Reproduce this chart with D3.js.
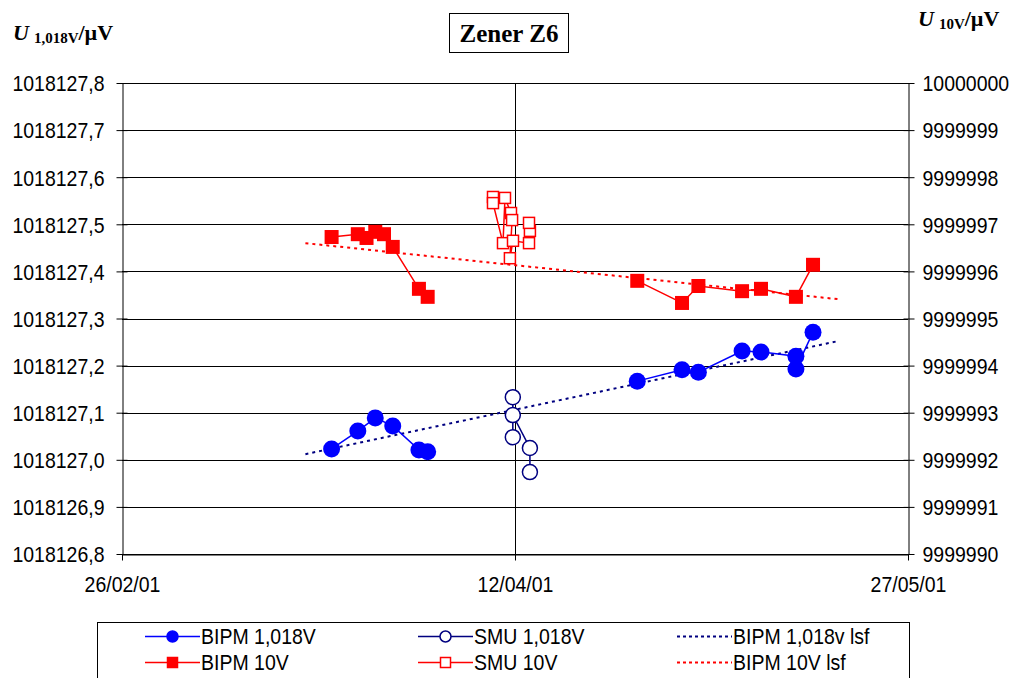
<!DOCTYPE html>
<html><head><meta charset="utf-8">
<script src="https://cdn.jsdelivr.net/npm/d3@7"></script>
<style>body{margin:0;background:#fff}svg{display:block}</style>
</head><body><svg id="c" width="1015" height="678"></svg>
<script>
// ---- data ---- (null marks a gap in the measured series)
const xTickLabels = ["2001-02-26","2001-04-12","2001-05-27"];
const leftTicks = [1018126.8,1018126.9,1018127.0,1018127.1,1018127.2,1018127.3,1018127.4,1018127.5,1018127.6,1018127.7,1018127.8];
const rightTicks = [9999990,9999991,9999992,9999993,9999994,9999995,9999996,9999997,9999998,9999999,10000000];

const bipm1018Dates = ["2001-03-22","2001-03-25","2001-03-27","2001-03-29","2001-04-01","2001-04-02",null,"2001-04-26","2001-05-01T03:00","2001-05-03","2001-05-08","2001-05-10T04:00","2001-05-14T04:00","2001-05-14T04:00","2001-05-16T03:00"];
const bipm1018Values = [1018127.023,1018127.061,1018127.089,1018127.072,1018127.021,1018127.017,null,1018127.167,1018127.191,1018127.186,1018127.231,1018127.229,1018127.220,1018127.193,1018127.271];

const smu1018Dates = ["2001-04-11T18:00","2001-04-11T18:00","2001-04-11T18:00","2001-04-13T17:00","2001-04-13T17:00"];
const smu1018Values = [1018127.048,1018127.133,1018127.095,1018127.025,1018126.974];

const bipm10Dates = ["2001-03-22","2001-03-25","2001-03-26","2001-03-27","2001-03-28","2001-03-29","2001-04-01","2001-04-02",null,"2001-04-26","2001-05-01T03:00","2001-05-03","2001-05-08","2001-05-10T04:00","2001-05-14T04:00","2001-05-16T03:00"];
const bipm10Values = [9999996.73,9999996.79,9999996.71,9999996.84,9999996.79,9999996.52,9999995.63,9999995.46,null,9999995.80,9999995.33,9999995.69,9999995.58,9999995.63,9999995.46,9999996.14];

const smu10Dates = ["2001-04-09T11:30","2001-04-09T11:30","2001-04-10T15:00","2001-04-10T20:30","2001-04-11T13:00","2001-04-11T16:00","2001-04-11T10:00","2001-04-11T18:30","2001-04-13T14:30","2001-04-13T17:00","2001-04-13T14:30"];
const smu10Values = [9999997.58,9999997.45,9999996.60,9999997.56,9999997.24,9999997.09,9999996.28,9999996.65,9999996.60,9999996.86,9999997.03];

const trend1018Dates = ["2001-03-19","2001-05-19"];
const trend1018Values = [1018127.012,1018127.252];
const trend10Dates = ["2001-03-19","2001-05-19"];
const trend10Values = [9999996.60,9999995.41];

const legendLabels = ["BIPM 1,018V","SMU 1,018V","BIPM 1,018v lsf","BIPM 10V","SMU 10V","BIPM 10V lsf"];

// ---- setup ----
const parse = s => new Date(s.length>10 ? s : s+"T00:00");
const L = 122, R = 908, T = 83, B = 554;
const x = d3.scaleTime().domain([parse(xTickLabels[0]), parse(xTickLabels[2])]).range([L,R]);
const yL = d3.scaleLinear().domain([1018126.8,1018127.8]).range([B,T]);
const yR = d3.scaleLinear().domain([9999990,10000000]).range([B,T]);
const loc = d3.formatLocale({decimal:",",thousands:"",grouping:[3],currency:["",""]});
const fL = loc.format(".1f"), fR = d3.format("d"), fX = d3.timeFormat("%d/%m/%y");

const svg = d3.select("#c");
const SANS = "'Liberation Sans', Arial, sans-serif";
const SERIF = "'Liberation Serif', 'Times New Roman', serif";
const FS = 19.5, SY = 1.1;

// gridlines
svg.append("g").selectAll("line").data(leftTicks).join("line")
  .attr("x1",L).attr("x2",R).attr("y1",d=>Math.round(yL(d))+0.5).attr("y2",d=>Math.round(yL(d))+0.5)
  .attr("stroke","#000").attr("stroke-width",1);
svg.append("line").attr("x1",Math.round(x(parse(xTickLabels[1])))+0.5).attr("x2",Math.round(x(parse(xTickLabels[1])))+0.5)
  .attr("y1",T).attr("y2",B+6).attr("stroke","#000");

// axes
const axL = svg.append("g").attr("transform",`translate(${L+0.5},0)`)
  .call(d3.axisLeft(yL).tickValues(leftTicks).tickFormat(fL).tickSizeInner(6).tickSizeOuter(0));
const axR = svg.append("g").attr("transform",`translate(${R+0.5},0)`)
  .call(d3.axisRight(yR).tickValues(rightTicks).tickFormat(fR).tickSizeInner(6).tickSizeOuter(0));
const axB = svg.append("g").attr("transform",`translate(0,${B+0.5})`)
  .call(d3.axisBottom(x).tickValues(xTickLabels.map(parse)).tickFormat(fX).tickSizeInner(6).tickSizeOuter(0));
[axL,axR,axB].forEach(a=>{
  a.select(".domain").attr("stroke","#000");
  a.selectAll(".tick line").attr("stroke","#000");
  a.selectAll("text").attr("font-family",SANS).attr("font-size",FS).attr("fill","#000");
});
axL.selectAll(".tick line").attr("x2",-6).attr("x1",5);
axR.selectAll(".tick line").attr("x1",-5).attr("x2",6);
axL.selectAll("text").attr("x",-18).attr("y",0).attr("dy",null).attr("dominant-baseline","central").attr("transform",`scale(1,${SY})`);
axR.selectAll("text").attr("x",14).attr("y",0).attr("dy",null).attr("dominant-baseline","central").attr("transform",`scale(1,${SY})`);
axB.selectAll("text").attr("y",20).attr("dy",null).attr("dominant-baseline","hanging").attr("transform",`scale(1,${SY})`);

// lines
const toPts = (ds,vs,ys)=>ds.map((d,i)=> d==null ? null : [x(parse(d)),ys(vs[i])]);
const line = d3.line().defined(p=>p!=null);
function series(ds,vs,ys,color,dash,w){
  svg.append("path").attr("d",line(toPts(ds,vs,ys))).attr("fill","none").attr("stroke",color)
    .attr("stroke-width",w).attr("stroke-dasharray",dash||null);
}
series(trend1018Dates,trend1018Values,yL,"#000080","3,4",2);
series(trend10Dates,trend10Values,yR,"#FF0000","3,4",2);
series(bipm10Dates,bipm10Values,yR,"#FF0000",null,1.5);
series(smu10Dates,smu10Values,yR,"#FF0000",null,1.5);
series(bipm1018Dates,bipm1018Values,yL,"#0000FF",null,1.5);
series(smu1018Dates,smu1018Values,yL,"#000080",null,1.5);

// markers
const pts = (ds,vs,ys)=>toPts(ds,vs,ys).filter(p=>p!=null);
svg.append("g").selectAll("rect").data(pts(bipm10Dates,bipm10Values,yR)).join("rect")
  .attr("x",p=>p[0]-7).attr("y",p=>p[1]-7).attr("width",14).attr("height",14).attr("fill","#FF0000");
svg.append("g").selectAll("rect").data(pts(smu10Dates,smu10Values,yR)).join("rect")
  .attr("x",p=>p[0]-5.5).attr("y",p=>p[1]-5.5).attr("width",11).attr("height",11).attr("fill","#fff")
  .attr("stroke","#FF0000").attr("stroke-width",1.5);
svg.append("g").selectAll("circle").data(pts(bipm1018Dates,bipm1018Values,yL)).join("circle")
  .attr("cx",p=>p[0]).attr("cy",p=>p[1]).attr("r",8.5).attr("fill","#0000FF");
svg.append("g").selectAll("circle").data(pts(smu1018Dates,smu1018Values,yL)).join("circle")
  .attr("cx",p=>p[0]).attr("cy",p=>p[1]).attr("r",7.5).attr("fill","#fff").attr("stroke","#000080").attr("stroke-width",1.5);

// title
svg.append("rect").attr("x",449.5).attr("y",13.5).attr("width",119).attr("height",39).attr("fill","#fff").attr("stroke","#000");
svg.append("text").attr("x",509).attr("y",42).attr("text-anchor","middle").attr("font-family",SERIF)
  .attr("font-weight","bold").attr("font-size",25).text("Zener Z6");

// axis titles
function axisTitle(xp,yp,sub){
  const t=svg.append("text").attr("x",xp).attr("y",yp).attr("font-family",SERIF).attr("font-weight","bold");
  t.append("tspan").attr("font-style","italic").attr("font-size",22).text("U");
  t.append("tspan").attr("font-size",15).attr("dx",5).attr("dy",3).text(sub);
  t.append("tspan").attr("font-size",22).attr("dy",-3).text("/µV");
}
axisTitle(13,40,"1,018V");
axisTitle(918,26,"10V");

// legend
svg.append("rect").attr("x",97.5).attr("y",622.5).attr("width",812).attr("height",80).attr("fill","#fff").attr("stroke","#000");
const cols=[145,418,677], rows=[636,662];
const legItems=[
  {c:"#0000FF",m:"circle",fill:"#0000FF"},{c:"#000080",m:"circle",fill:"#fff"},{c:"#000080",m:null,dash:"3,3"},
  {c:"#FF0000",m:"rect",fill:"#FF0000"},{c:"#FF0000",m:"rect",fill:"#fff"},{c:"#FF0000",m:null,dash:"3,3"}];
legItems.forEach((it,i)=>{
  const cx=cols[i%3], cy=rows[Math.floor(i/3)];
  const g=svg.append("g");
  g.append("line").attr("x1",cx).attr("x2",cx+55).attr("y1",cy+0.5).attr("y2",cy+0.5).attr("stroke",it.c)
    .attr("stroke-width",it.dash?2:1.5).attr("stroke-dasharray",it.dash||null);
  if(it.m==="circle") g.append("circle").attr("cx",cx+27.5).attr("cy",cy+0.5).attr("r",5.5).attr("fill",it.fill).attr("stroke",it.c).attr("stroke-width",1.5);
  if(it.m==="rect") g.append("rect").attr("x",cx+22.5).attr("y",cy-4.5).attr("width",10).attr("height",10).attr("fill",it.fill).attr("stroke",it.c).attr("stroke-width",1.5);
  g.append("text").attr("x",cx+56).attr("y",cy).attr("dominant-baseline","central").attr("font-family",SANS)
    .attr("font-size",FS).attr("transform",`translate(0,${cy}) scale(1,${SY}) translate(0,${-cy})`).text(legendLabels[i]);
});
</script></body></html>
